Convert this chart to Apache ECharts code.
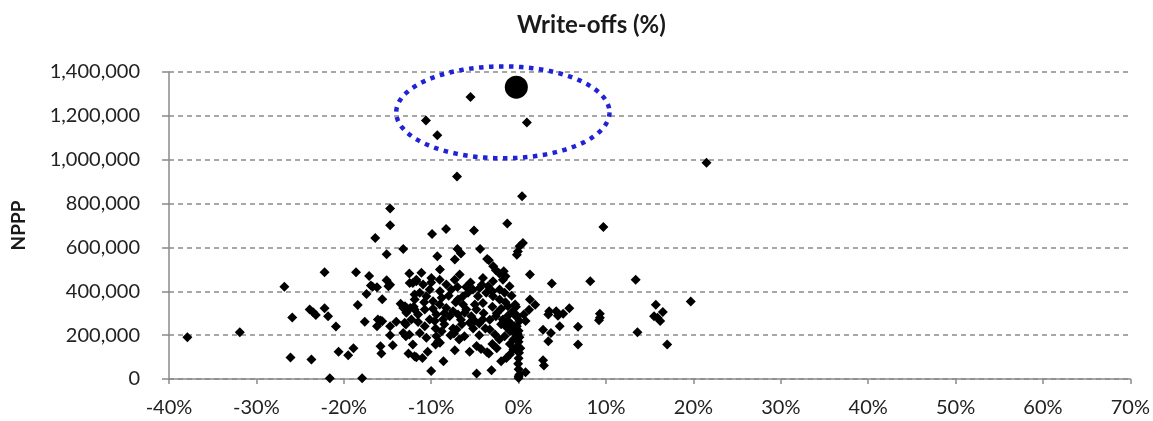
<!DOCTYPE html>
<html>
<head>
<meta charset="utf-8">
<script src="https://cdn.jsdelivr.net/npm/echarts@6/dist/echarts.min.js"></script>
<style>
html,body{margin:0;padding:0;background:#fff;}
#chart{width:1153px;height:421px;}
</style>
</head>
<body>
<div id="chart"></div>
<script>
// x: write-offs in percent, y: NPPP
var pointsTop = [
  [-5.5,1286000],[-10.6,1179000],[-9.3,1111000],[0.95,1170000],[-7.05,924000],
  [0.4,833000],[21.5,986000],[-14.7,778000]
];
var pointsLeft = [
  [-37.9,190000],[-31.9,213000],[-26.8,421000],[-25.9,280000],[-26.1,98000],[-23.7,89000],
  [-23.9,317000],[-23.5,304000],[-23.2,292000],[-22.2,487000],[-22.2,323000],[-21.8,286000],
  [-20.9,239000],[-21.6,3000],[-20.6,124000],[-19.5,108000],[-18.9,140000],[-17.9,3000],
  [-18.6,487000],[-18.4,338000],[-17.6,261000],[-17.4,388000],[-17.1,470000],[-16.9,426000],
  [-16.7,421000],[-16.2,418000],[-16.4,643000],[-14.7,701000],[-15.1,569000],[-13.2,593000],
  [-15.1,450000],[-14.9,423000],[-14.7,430000],[-15.6,364000],[-16.1,271000],[-16.2,241000],
  [-15.8,267000],[-15.6,263000],[-15.8,149000],[-15.7,116000],[-14.7,241000],[-14.7,200000],
  [-14.4,154000],[-14.0,261000],[-13.5,343000],[-13.2,324000],[-13.0,332000],[-12.9,248000],
  [-13.2,210000],[-12.9,195000],[-12.5,203000],[-12.6,116000],[-11.7,99000],[-12.5,481000],
  [-12.1,438000],[-11.7,453000],[-11.9,385000],[-12.4,324000],[-11.9,317000]
];
var pointsMid = [
  [-1.3,709000],[9.7,693000],[-9.9,661000],[-8.3,684000],[-5.1,677000],[-9.3,560000],
  [-7.3,545000],[-7.0,593000],[-6.6,572000],[-4.4,593000],[-3.6,547000],[-3.4,541000],
  [-0.08,582000],[0.11,605000],[0.5,620000],[-0.2,567000],[-9.0,499000],[-2.9,514000],
  [-2.6,496000],[-2.2,481000],[-1.7,491000],[-1.5,469000],[1.3,476000],[3.8,435000],
  [8.2,446000],[13.4,453000],[19.7,353000],[15.7,339000],[16.5,305000],[15.5,286000],
  [15.9,279000],[16.2,264000],[13.6,213000],[17.0,157000],[9.3,298000],[9.3,279000],
  [9.2,268000],[6.8,238000],[6.8,157000],[5.8,323000],[5.1,298000],[4.5,289000],
  [4.3,309000],[3.5,309000],[3.4,294000],[4.7,240000],[3.7,210000],[2.8,225000],
  [3.4,172000],[2.8,86000],[2.9,61000],[0.8,31000],[0.0,13000],[1.9,339000],
  [1.3,362000],[1.2,316000],[0.6,294000],[0.8,264000]
];
var pointsZero = [
  [-0.1,286000],[0.1,265000],[-0.2,240000],[0.0,220000],[-0.1,205000],[0.1,190000],
  [0.0,170000],[-0.1,150000],[0.05,120000],[0.0,95000],[-0.05,70000],[0.0,45000],
  [0.1,20000],[-0.3,330000],[-0.2,180000],[0.2,140000],[0.0,5000]
];
var pointsDense = [
  [-10.0,36000],[-4.8,25000],[-3.1,40000],[-8.6,81000],[-7.3,131000],[-5.6,124000],
  [-11.9,104000],[-11.0,96000],[-10.4,124000],[-12.1,157000],[-12.8,324000],
  [-4.8,150000],[-4.3,137000],[-3.6,122000],[-3.4,116000],[-2.0,81000],[-1.4,96000],
  [-1.0,112000],[-0.6,134000],[-9.4,195000],[-9.2,172000],[-9.0,165000],[-9.5,157000],
  [-8.8,218000],[-7.4,207000],[-6.2,195000],[-7.1,226000],[-5.6,256000],[-5.0,264000],
  [-4.5,253000],[-4.1,271000],[-3.3,226000],[-2.7,203000],[-2.2,180000],[-1.6,195000],
  [-1.0,218000],[-0.5,241000],[-2.6,286000],[-1.8,271000],[-1.2,264000],[-0.8,248000],
  [-0.5,226000],[-0.3,203000],
  [-12.46,438000],[-11.70,446000],[-10.93,431000],[-10.17,408000],[-11.31,393000],
  [-10.55,377000],[-9.79,355000],[-9.03,340000],[-8.27,324000],[-7.50,309000],
  [-11.89,362000],[-12.84,302000],[-13.03,256000],[-12.27,271000],[-11.50,294000],
  [-10.74,317000],[-9.41,294000],[-8.65,271000],[-7.89,286000],[-6.93,294000],
  [-6.17,302000],[-5.41,286000],[-4.84,317000],[-6.93,362000],[-6.36,377000],
  [-5.79,393000],[-5.22,408000],[-4.65,377000],[-4.08,347000],[-6.36,340000],
  [-5.98,317000],[-4.08,461000],[-3.50,423000],[-2.93,446000],[-4.46,415000],
  [-3.70,393000],[-2.93,377000],[-2.17,362000],[-1.60,393000],[-1.03,423000],
  [-2.17,408000],[-1.79,453000],[-1.22,332000],[-0.65,309000],[-7.70,408000],
  [-8.27,431000],[-7.31,453000],[-6.74,476000],[-11.12,484000],[-9.98,461000],
  [-9.03,453000],[-10.74,241000],[-10.17,271000],[-11.31,210000],[-10.55,188000],
  [-9.60,264000],
  [-8.0,380000],[-7.0,420000],[-9.0,400000],[-3.0,330000],[-2.5,300000],[-1.5,350000],
  [-4.0,300000],[-5.0,340000],[-6.5,250000],[-7.5,230000],[-8.5,250000],[-3.8,230000],
  [-2.0,250000],[-0.8,380000],[-0.4,340000],[-1.2,290000],[-3.3,270000],[-5.5,440000],
  [-8.8,370000],[-11.5,260000],[-12.0,330000],[-10.0,440000],[-9.5,230000],[-7.8,200000],
  [-6.8,180000],[-3.0,160000],[-1.0,160000],[-0.6,180000],[-2.5,140000],[-4.5,200000],
  [-8.5,300000],[-6.0,420000],[-3.0,400000],[-2.0,320000],[-9.8,320000],[-7.2,350000],
  [-5.2,230000],[-1.5,240000],[-0.4,290000],[-4.2,430000],[-10.8,350000],[-6.6,270000]
];
var highlightPoint = [[-0.26,1331000]];
// ellipse annotation: [centerX, centerY, radiusX, radiusY]
var ellipseData = [[-1.8,1216000,12.2,209600]];

var xTicks = {min:-40, max:70, interval:10};
var yTicks = {min:0, max:1400000, interval:200000};

var allPoints = [].concat(pointsTop, pointsLeft, pointsMid, pointsZero, pointsDense);

var chart = echarts.init(document.getElementById('chart'), null, {renderer:'canvas'});
var FONT = 'Lato';
chart.setOption({
  animation:false,
  backgroundColor:'#ffffff',
  title:{
    text:'Write-offs (%)',
    left:512, top:8,
    textStyle:{fontFamily:FONT, fontWeight:'bold', fontSize:24, color:'#1a1a1a'}
  },
  grid:{left:169, right:18, top:72, bottom:42, containLabel:false},
  xAxis:{
    type:'value', min:xTicks.min, max:xTicks.max, interval:xTicks.interval,
    axisLine:{onZero:false, lineStyle:{color:'#8a8a8a', width:1.5}},
    axisTick:{show:true, length:5, lineStyle:{color:'#8a8a8a', width:1.5}},
    axisLabel:{formatter:'{value}%', margin:19, fontFamily:FONT, fontSize:20, color:'#222'},
    splitLine:{show:false}
  },
  yAxis:{
    type:'value', min:yTicks.min, max:yTicks.max, interval:yTicks.interval,
    name:'NPPP', nameLocation:'middle', nameGap:141, nameRotate:90,
    nameTextStyle:{fontFamily:FONT, fontWeight:'bold', fontSize:19, color:'#1a1a1a'},
    axisLine:{show:true, onZero:false, lineStyle:{color:'#8a8a8a', width:1.5}},
    axisTick:{show:true, length:7, lineStyle:{color:'#8a8a8a', width:1.5}},
    axisLabel:{
      margin:29, fontFamily:FONT, fontSize:20, color:'#222',
      formatter:function(v){return v.toString().replace(/\B(?=(\d{3})+(?!\d))/g, ',');}
    },
    splitLine:{show:true, lineStyle:{color:'#8a8a8a', type:[5,4], width:1.5}}
  },
  series:[
    {
      type:'scatter', data:allPoints, symbol:'diamond', symbolSize:10,
      itemStyle:{color:'#000', opacity:1}, z:3
    },
    {
      type:'scatter', data:highlightPoint, symbol:'circle', symbolSize:23,
      itemStyle:{color:'#000', opacity:1}, z:4
    },
    {
      type:'custom', data:ellipseData, z:5, silent:true,
      renderItem:function(params, api){
        var c = api.coord([api.value(0), api.value(1)]);
        var s = api.size([api.value(2), api.value(3)]);
        var pts = [];
        var n = 180;
        for (var i = 0; i < n; i++) {
          var t = i / n * Math.PI * 2;
          pts.push([c[0] + s[0] * Math.cos(t), c[1] + s[1] * Math.sin(t)]);
        }
        return {
          type:'polygon',
          shape:{points:pts},
          style:{fill:'none', stroke:'#1f22d6', lineWidth:4.5, lineDash:[4.5,5.5]}
        };
      }
    }
  ]
});
</script>
</body>
</html>
